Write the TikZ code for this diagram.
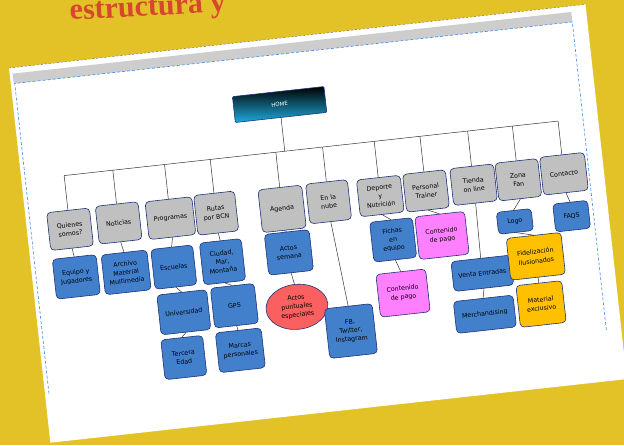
\documentclass[tikz,border=0pt]{standalone}
\usepackage{fontspec}
\setmainfont{Liberation Serif}
\newfontfamily\boxfont{DejaVu Sans}
\usetikzlibrary{shapes.geometric}
\definecolor{bgyellow}{RGB}{226,194,38}
\definecolor{titlered}{RGB}{214,72,46}
\definecolor{navy}{RGB}{30,50,120}
\definecolor{grayfill}{RGB}{192,192,192}
\definecolor{bluefill}{RGB}{66,128,204}
\definecolor{pinkfill}{RGB}{255,128,255}
\definecolor{yellowfill}{RGB}{255,192,0}
\definecolor{redfill}{RGB}{250,96,96}
\definecolor{bandgray}{RGB}{205,205,205}
\definecolor{selblue}{RGB}{60,140,230}
\definecolor{homecyan}{RGB}{30,170,220}
\begin{document}
\begin{tikzpicture}[x=1pt,y=1pt]
\useasboundingbox (0,0) rectangle (624,445);
\clip (0,0) rectangle (624,445);
\fill[bgyellow] (0,0) rectangle (624,445);
\node[rotate=3, anchor=base west, text=titlered, font=\fontsize{30}{30}\selectfont\bfseries, inner sep=0pt] (title) at (70,425) {estructura y};
\begin{scope}[shift={(9,377)}, rotate=6.3, x=1pt, y=-1pt,
  box/.style={draw=navy, line width=0.6pt, rounded corners=4pt, align=center, font=\boxfont\fontsize{6.3}{8.6}\selectfont, inner sep=1pt, transform shape, text=black},
  lvl/.style={box, fill=grayfill, minimum width=43pt, minimum height=38pt},
  bl/.style={box, fill=bluefill},
  pk/.style={box, fill=pinkfill},
  yl/.style={box, fill=yellowfill},
  homebox/.style={draw=navy, line width=0.6pt, top color=black, bottom color=homecyan, text=white, font=\boxfont\fontsize{5.5}{6}\selectfont, minimum width=92pt, minimum height=26pt, transform shape, rounded corners=1pt},
  conn/.style={draw=black!80, line width=0.5pt}]
% paper
\fill[white] (0,0) rectangle (580,377);
\draw[black!60, dash pattern=on 2pt off 2pt, line width=0.4pt] (0,0) -- (580,0);
\fill[bandgray] (3,6) rectangle (565,16);
\draw[selblue, dash pattern=on 3pt off 2pt, line width=0.6pt] (4,328) -- (4,16) -- (565,16) -- (565,328);
% home
\node[homebox] (home) at (265,66) {HOME};
% bus coordinates
\coordinate (hb) at (265,113);
\coordinate (b1) at (43,113);
\coordinate (b2) at (92,113);
\coordinate (b3) at (144,113);
\coordinate (b4) at (190,113);
\coordinate (b5) at (256,113);
\coordinate (b6) at (303,113);
\coordinate (b7) at (355,113);
\coordinate (b8) at (401,113);
\coordinate (b9) at (449,113);
\coordinate (b10) at (494,113);
\coordinate (b11) at (540,113);
% level 1
\node[lvl] (q) at (43,167) {Quienes\\somos?};
\node[lvl] (not) at (92,166) {Noticias};
\node[lvl, minimum width=47pt] (prog) at (144,167) {Programas};
\node[lvl, minimum width=41pt, minimum height=40pt] (rutas) at (190,167) {Rutas\\por BCN};
\node[lvl, minimum width=44pt, minimum height=43pt] (agenda) at (256,170) {Agenda};
\node[lvl, minimum width=42pt, minimum height=40pt] (nube) at (303,168) {En la\\nube};
\node[lvl, minimum width=44pt, minimum height=37pt] (dep) at (355,168) {Deporte\\y\\Nutrición};
\node[lvl] (pt) at (401,168) {Personal\\Trainer};
\node[lvl, minimum width=44pt, minimum height=37pt] (tienda) at (449,167) {Tienda\\on line};
\node[lvl] (zona) at (494,167) {Zona\\Fan};
\node[lvl, minimum width=45pt] (cont) at (540,166) {Contacto};
% level 2+
\node[bl, minimum width=44pt, minimum height=40pt] (equipo) at (44,215) {Equipo y\\Jugadores};
\node[bl, minimum width=46pt, minimum height=40pt] (archivo) at (94,216) {Archivo\\Material\\Multimedia};
\node[bl, minimum width=42pt, minimum height=40pt] (escuelas) at (142,216) {Escuelas};
\node[bl, minimum width=50pt, minimum height=40pt] (univ) at (147,262) {Universidad};
\node[bl, minimum width=42pt, minimum height=40pt] (tercera) at (142,307) {Tercera\\Edad};
\node[bl, minimum width=42pt, minimum height=42pt] (ciudad) at (191,216) {Ciudad,\\Mar,\\Montaña};
\node[bl, minimum width=44pt, minimum height=40pt] (gps) at (198,261) {GPS};
\node[bl, minimum width=46pt, minimum height=40pt] (marcas) at (199,306) {Marcas\\personales};
\node[bl, minimum width=45pt, minimum height=41pt] (actos) at (258,214) {Actos\\semana};
\node[box, ellipse, fill=redfill, minimum width=62pt, minimum height=45pt, inner sep=0pt] (actosp) at (260,269) {Actos\\puntuales\\especiales};
\node[bl, minimum width=48pt, minimum height=50pt] (fb) at (311,299) {FB,\\Twitter,\\Instagram};
\node[bl, minimum width=43pt, minimum height=40pt] (fichas) at (363,213) {Fichas\\en\\equipo};
\node[pk, minimum width=50pt, minimum height=43pt] (cdpa) at (367,267) {Contenido\\de pago};
\node[pk, minimum width=50pt, minimum height=43pt] (cdpb) at (412,214) {Contenido\\de pago};
\node[bl, minimum width=60pt, minimum height=30pt] (venta) at (448,256) {Venta Entradas};
\node[bl, minimum width=60pt, minimum height=32pt] (merch) at (446,297) {Merchandising};
\node[bl, minimum width=35pt, minimum height=22pt] (logo) at (486,208) {Logo};
\node[yl, minimum width=55pt, minimum height=42pt, font=\boxfont\fontsize{6.3}{9.5}\selectfont] (fidel) at (503,245) {Fidelización\\Ilusionados};
\node[yl, minimum width=46pt, minimum height=42pt] (material) at (503,293) {Material\\exclusivo};
\node[bl, minimum width=35pt, minimum height=28pt] (faqs) at (543,209) {FAQS};
% connectors
\draw[conn] (home.south) -- (hb);
\draw[conn] (b1) -- (b11);
\draw[conn] (b1) -- (q.north);
\draw[conn] (b2) -- (not.north);
\draw[conn] (b3) -- (prog.north);
\draw[conn] (b4) -- (rutas.north);
\draw[conn] (b5) -- (agenda.north);
\draw[conn] (b6) -- (nube.north);
\draw[conn] (b7) -- (dep.north);
\draw[conn] (b8) -- (pt.north);
\draw[conn] (b9) -- (tienda.north);
\draw[conn] (b10) -- (zona.north);
\draw[conn] (b11) -- (cont.north);
\draw[conn] (q.south) -- (equipo.north);
\draw[conn] (not.south) -- (archivo.north);
\draw[conn] (prog.south) -- (escuelas.north);
\draw[conn] (escuelas.south) -- (univ.north);
\draw[conn] (univ.south) -- (tercera.north);
\draw[conn] (rutas.south) -- (ciudad.north);
\draw[conn] (ciudad.south) -- (gps.north);
\draw[conn] (gps.south) -- (marcas.north);
\draw[conn] (agenda.south) -- (actos.north);
\draw[conn] (actos.south) -- (actosp.north);
\draw[conn] (nube.south) -- (fb.north);
\draw[conn] (dep.south) -- (fichas.north);
\draw[conn] (fichas.south) -- (cdpa.north);
\draw[conn] (pt.south) -- (cdpb.north);
\draw[conn] (tienda.south) -- (venta.north);
\draw[conn] (venta.south) -- (merch.north);
\draw[conn] (zona.south) -- (logo.north);
\draw[conn] (logo.south) -- (fidel.north);
\draw[conn] (fidel.south) -- (material.north);
\draw[conn] (cont.south) -- (faqs.north);
\end{scope}
\end{tikzpicture}
\end{document}
